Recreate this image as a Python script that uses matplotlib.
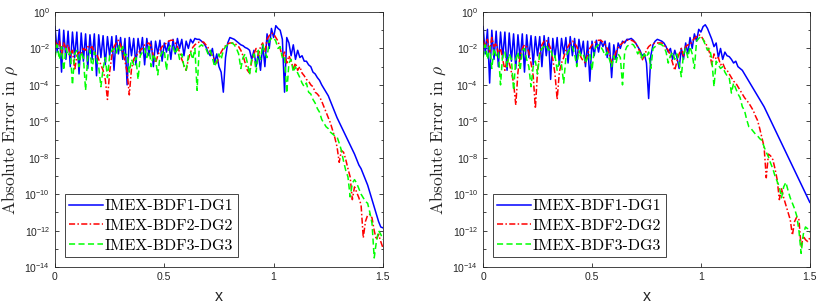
import numpy as np
import matplotlib
matplotlib.use("Agg")
import matplotlib.pyplot as plt
from matplotlib.ticker import LogLocator, FixedLocator, NullFormatter

plt.rcParams['mathtext.fontset'] = 'cm'

# sample positions (x) shared by all curves
x_grid = np.round(np.arange(0, 151) * 0.01, 2)

series_labels = ['IMEX-BDF1-DG1', 'IMEX-BDF2-DG2', 'IMEX-BDF3-DG3']

# log10 of absolute error, left panel
left_bdf1 = [
    -0.8, -2.2, -0.95, -3.3, -1.0, -2.6, -1.05, -3.0, -1.1, -2.5,
    -1.1, -3.4, -1.15, -2.7, -1.2, -3.1, -1.25, -2.6, -1.2, -3.5,
    -1.25, -2.5, -1.3, -2.9, -1.35, -2.4, -1.35, -3.2, -1.3, -2.3,
    -1.4, -2.6, -1.45, -4.0, -1.4, -2.4, -1.45, -2.9, -1.45, -2.3,
    -1.4, -2.9, -1.45, -2.4, -1.6, -3.0, -1.6, -2.3, -1.55, -2.7,
    -1.7, -2.2, -1.6, -2.6, -1.5, -2.3, -1.45, -2.0, -1.5, -2.4,
    -1.6, -2.0, -1.5, -1.7, -1.45, -1.5, -1.5, -1.6, -1.7, -1.9,
    -2.2, -2.4, -2.0, -2.8, -2.3, -3.0, -3.3, -4.4, -2.5, -1.7,
    -1.4, -1.45, -1.5, -1.6, -1.7, -1.8, -1.85, -1.95, -2.0, -2.1,
    -2.6, -2.1, -3.0, -2.3, -3.2, -1.8, -3.0, -1.2, -2.0, -0.9,
    -1.4, -0.75, -0.9, -1.0, -1.5, -4.4, -1.4, -1.7, -2.4, -1.8,
    -2.6, -2.1, -2.5, -2.4, -2.7, -2.7, -2.9, -3.0, -3.3, -3.4,
    -3.6, -3.75, -4.0, -4.2, -4.4, -4.6, -4.9, -5.2, -5.5, -5.8,
    -6.05, -6.3, -6.55, -6.8, -7.05, -7.3, -7.55, -7.8, -8.1, -8.4,
    -8.6, -8.9, -9.2, -9.5, -9.9, -10.3, -10.7, -11.1, -11.5, -11.8,
    -11.85,
]
left_bdf2 = [
    -1.55, -1.9, -1.6, -2.3, -1.7, -2.0, -1.8, -2.4, -2.1, -3.2,
    -2.4, -2.2, -2.3, -2.0, -2.1, -1.9, -2.0, -1.9, -2.2, -2.3,
    -2.6, -2.9, -3.2, -3.7, -4.8, -3.3, -2.4, -1.9, -1.7, -1.55,
    -1.8, -2.2, -2.7, -3.3, -4.55, -3.1, -2.6, -2.4, -2.3, -2.1,
    -2.0, -1.8, -1.75, -1.7, -1.9, -2.4, -2.8, -2.4, -2.1, -1.9,
    -1.8, -1.7, -1.6, -1.55, -1.55, -1.7, -1.9, -2.2, -2.6, -2.9,
    -3.2, -2.6, -2.2, -1.95, -1.8, -1.7, -1.65, -1.65, -1.65, -1.8,
    -1.95, -2.2, -2.4, -2.6, -2.8, -2.5, -2.2, -2.0, -1.85, -1.75,
    -1.7, -1.7, -1.7, -1.8, -1.9, -2.1, -2.4, -2.8, -3.2, -3.35,
    -2.7, -2.3, -2.0, -2.4, -1.9, -1.7, -2.2, -1.5, -1.3, -1.15,
    -1.2, -1.4, -1.6, -2.0, -2.5, -2.2, -2.8, -2.4, -2.7, -3.1,
    -2.8, -3.2, -3.0, -3.35, -3.5, -3.7, -3.8, -4.0, -4.1, -4.4,
    -4.5, -4.65, -4.9, -5.2, -5.5, -5.8, -6.1, -6.5, -6.9, -7.4,
    -8.25, -7.6, -7.7, -8.1, -8.6, -9.05, -10.3, -9.6, -9.9, -10.2,
    -10.6, -12.4, -11.5, -11.15, -11.1, -11.3, -12.0, -12.5, -12.2, -12.6,
    -12.95,
]
left_bdf3 = [
    -2.5, -1.8, -2.6, -1.9, -3.2, -2.0, -2.4, -2.2, -4.0, -2.3,
    -2.1, -3.0, -2.2, -2.5, -4.3, -2.4, -2.1, -3.2, -2.2, -2.6,
    -3.0, -4.1, -3.1, -2.5, -3.6, -2.4, -2.1, -2.0, -2.25, -1.8,
    -2.2, -1.9, -2.4, -2.3, -3.3, -2.6, -2.9, -2.5, -3.7, -2.4,
    -2.2, -2.0, -2.5, -1.9, -3.0, -2.3, -2.6, -3.45, -2.5, -2.2,
    -2.1, -3.2, -2.0, -1.8, -1.9, -2.3, -2.0, -2.6, -2.3, -3.0,
    -3.2, -2.4, -2.2, -2.6, -2.0, -4.3, -1.9, -1.8, -1.9, -2.0,
    -2.3, -2.1, -2.5, -3.0, -2.7, -2.3, -2.6, -2.1, -1.9, -1.8,
    -1.75, -1.7, -1.8, -2.0, -2.3, -3.1, -2.5, -2.3, -2.8, -3.45,
    -2.5, -2.3, -3.3, -2.1, -2.6, -1.8, -2.2, -2.5, -1.6, -1.45,
    -1.4, -1.6, -2.0, -1.9, -2.5, -2.4, -4.45, -2.8, -2.6, -3.3,
    -3.0, -3.35, -3.6, -3.9, -4.1, -3.9, -4.4, -4.5, -4.8, -5.0,
    -5.3, -5.5, -5.9, -6.1, -6.3, -6.4, -6.6, -6.7, -6.8, -6.85,
    -7.2, -7.6, -8.2, -8.7, -9.05, -10.15, -9.4, -9.2, -9.4, -9.7,
    -10.0, -10.2, -10.4, -10.5, -11.0, -11.6, -13.5, -12.6, -12.0, -12.2,
    -12.5,
]

# log10 of absolute error, right panel
right_bdf1 = [
    -0.8, -2.3, -0.95, -3.9, -1.0, -2.6, -1.05, -3.0, -1.1, -2.5,
    -1.1, -3.2, -1.15, -2.7, -1.2, -3.1, -1.25, -2.6, -1.2, -3.3,
    -1.25, -2.5, -1.3, -2.9, -1.35, -2.4, -1.35, -3.0, -1.3, -2.4,
    -1.4, -3.7, -1.45, -2.5, -1.4, -2.9, -1.45, -2.3, -1.4, -2.8,
    -1.35, -2.4, -1.45, -2.9, -1.5, -2.3, -1.6, -3.0, -1.6, -3.8,
    -1.6, -2.4, -1.55, -2.2, -1.55, -1.9, -1.6, -2.5, -1.7, -3.6,
    -1.8, -2.6, -1.7, -2.0, -1.6, -1.7, -1.5, -1.5, -1.45, -1.55,
    -1.7, -1.9, -2.1, -2.4, -2.3, -2.8, -4.75, -2.4, -1.8, -1.6,
    -1.5, -1.55, -1.6, -1.7, -1.9, -2.2, -2.0, -2.6, -2.1, -2.5,
    -3.1, -2.0, -2.6, -1.7, -2.3, -1.4, -2.0, -1.2, -1.6, -0.95,
    -1.1, -0.8, -0.7, -0.9, -1.2, -1.5, -1.9, -1.7, -2.5, -2.0,
    -2.6, -2.2, -2.4, -2.45, -2.6, -2.8, -2.7, -3.0, -3.1, -3.2,
    -3.4, -3.6, -3.8, -4.0, -4.2, -4.4, -4.6, -4.8, -5.0, -5.2,
    -5.45, -5.7, -5.95, -6.2, -6.45, -6.7, -6.95, -7.2, -7.45, -7.7,
    -7.95, -8.2, -8.45, -8.7, -8.95, -9.2, -9.45, -9.7, -9.95, -10.2,
    -10.45,
]
right_bdf2 = [
    -1.55, -1.9, -1.5, -2.2, -1.4, -1.9, -1.7, -2.3, -2.0, -2.6,
    -3.2, -2.6, -2.8, -3.3, -3.9, -5.1, -3.3, -2.4, -2.0, -1.8,
    -1.9, -2.2, -2.8, -3.5, -5.3, -3.2, -2.3, -1.8, -1.6, -1.55,
    -1.7, -2.0, -2.6, -3.4, -4.8, -3.3, -2.8, -2.5, -2.1, -1.9,
    -1.7, -1.6, -1.7, -1.9, -2.2, -2.5, -2.7, -2.8, -2.3, -2.0,
    -1.8, -1.7, -1.6, -1.55, -1.55, -1.65, -1.8, -2.0, -2.3, -2.8,
    -2.6, -2.2, -1.95, -1.8, -1.7, -1.6, -1.55, -1.55, -1.55, -1.6,
    -1.7, -1.9, -2.2, -2.65, -2.4, -2.1, -1.9, -1.8, -1.75, -1.7,
    -1.7, -1.7, -1.7, -1.8, -1.95, -2.1, -2.4, -2.8, -3.2, -2.7,
    -2.3, -2.0, -2.4, -1.9, -1.8, -1.8, -1.6, -1.45, -1.35, -1.25,
    -1.3, -1.5, -1.7, -1.9, -2.25, -2.9, -2.3, -2.6, -2.5, -2.9,
    -2.8, -3.1, -3.2, -3.4, -3.6, -3.8, -3.9, -4.1, -4.3, -4.5,
    -4.7, -4.85, -5.0, -5.2, -5.4, -5.7, -5.95, -6.4, -6.9, -7.4,
    -9.1, -7.8, -7.9, -8.1, -8.6, -9.2, -10.3, -9.7, -10.2, -10.6,
    -11.0, -11.4, -12.25, -11.5, -11.25, -11.4, -12.9, -12.3, -12.5, -12.6,
    -12.4,
]
right_bdf3 = [
    -2.5, -1.8, -2.6, -1.9, -3.1, -2.0, -2.4, -2.2, -4.0, -2.3,
    -2.2, -3.0, -2.3, -2.6, -4.3, -2.6, -2.2, -3.2, -2.1, -2.0,
    -2.6, -3.0, -4.1, -3.0, -2.7, -3.4, -2.3, -2.0, -1.9, -1.8,
    -2.1, -2.0, -2.5, -2.4, -3.2, -2.7, -2.9, -3.9, -2.5, -2.2,
    -2.0, -1.9, -2.3, -3.0, -2.1, -2.4, -2.3, -2.8, -2.5, -2.3,
    -3.2, -2.1, -1.9, -1.8, -1.9, -2.1, -2.4, -2.2, -2.6, -3.0,
    -2.4, -2.8, -2.3, -2.5, -4.0, -2.2, -1.9, -1.8, -1.75, -1.8,
    -2.0, -2.3, -2.1, -2.6, -2.3, -2.5, -2.2, -3.1, -2.0, -1.9,
    -1.8, -1.75, -1.8, -1.9, -2.2, -2.8, -2.4, -2.2, -2.6, -2.3,
    -2.8, -3.55, -2.3, -2.0, -2.5, -1.9, -2.3, -3.1, -1.6, -1.45,
    -1.35, -1.5, -1.8, -2.1, -2.0, -2.6, -4.1, -2.7, -2.9, -3.1,
    -3.0, -3.3, -3.5, -3.6, -4.45, -3.9, -4.2, -4.5, -4.7, -5.2,
    -5.4, -5.9, -6.3, -6.4, -6.55, -6.7, -6.8, -6.95, -7.05, -7.4,
    -7.7, -7.95, -8.3, -8.6, -9.0, -9.3, -9.6, -10.2, -9.6, -9.35,
    -9.8, -10.2, -10.5, -10.8, -11.2, -12.0, -13.25, -12.2, -11.8, -11.9,
    -12.1,
]

x_ticks = [0, 0.5, 1, 1.5]
x_tick_labels = ['0', '0.5', '1', '1.5']
y_ticks = [1e-14, 1e-12, 1e-10, 1e-8, 1e-6, 1e-4, 1e-2, 1e0]

colors = ['#0000ff', '#ff0000', '#00ff00']
styles = ['-', (0, (4, 1.5, 1, 1.5)), (0, (4, 2.2))]
axis_color = '#262626'


def draw_panel(ax, curves):
    for vals, lab, col, ls in zip(curves, series_labels, colors, styles):
        ax.semilogy(x_grid, 10.0 ** np.array(vals), color=col, linestyle=ls,
                    linewidth=1.1, label=lab)
    ax.set_xlim(0, 1.5)
    ax.set_ylim(1e-14, 1e0)
    ax.set_xticks(x_ticks)
    ax.set_xticklabels(x_tick_labels)
    ax.yaxis.set_major_locator(FixedLocator(y_ticks))
    ax.yaxis.set_minor_locator(LogLocator(base=10, subs=(1.0,), numticks=30))
    ax.yaxis.set_minor_formatter(NullFormatter())
    ax.tick_params(which='both', direction='in', top=True, right=True,
                   colors=axis_color, labelsize=7.5, width=0.6)
    ax.tick_params(which='major', length=3)
    ax.tick_params(which='minor', length=1.8)
    for lbl in ax.get_xticklabels() + ax.get_yticklabels():
        lbl.set_family('Liberation Sans')
    for sp in ax.spines.values():
        sp.set_color(axis_color)
        sp.set_linewidth(0.6)
    ax.set_xlabel('x', family='Liberation Sans', fontsize=11.5, color=axis_color,
                  labelpad=5)
    ax.set_ylabel(r'Absolute Error in $\rho$', family='cmr10', fontsize=12.5,
                  color=axis_color, labelpad=3)
    leg = ax.legend(loc='lower left', prop={'family': 'cmr10', 'size': 11.5},
                    fancybox=False, framealpha=1, edgecolor=axis_color,
                    borderpad=0.3, labelspacing=0.35, handlelength=2.1,
                    handletextpad=0.1, borderaxespad=0.6)
    leg.get_frame().set_linewidth(0.6)


fig = plt.figure(figsize=(8.23, 3.08), dpi=100)
ax1 = fig.add_axes([0.0668, 0.133, 0.3985, 0.828])
ax2 = fig.add_axes([0.587, 0.133, 0.397, 0.828])

draw_panel(ax1, [left_bdf1, left_bdf2, left_bdf3])
draw_panel(ax2, [right_bdf1, right_bdf2, right_bdf3])

fig.savefig('out.png', dpi=100)
